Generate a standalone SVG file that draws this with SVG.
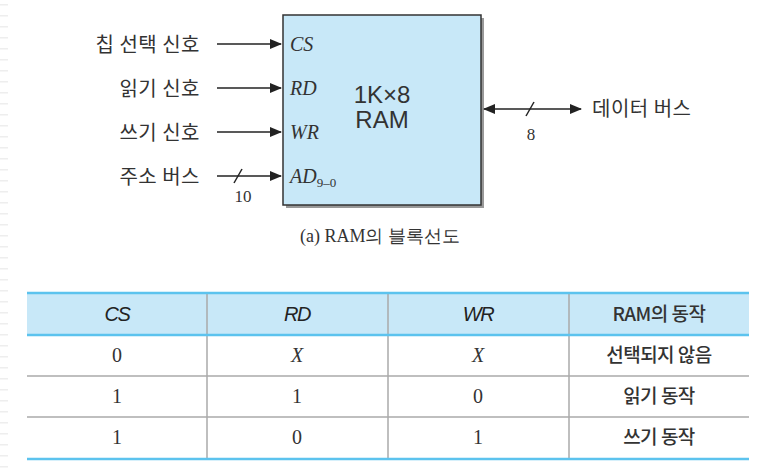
<svg xmlns="http://www.w3.org/2000/svg" width="764" height="475" viewBox="0 0 764 475">
<defs>
<marker id="ah" markerWidth="12" markerHeight="10" refX="11" refY="5" orient="auto-start-reverse" markerUnits="userSpaceOnUse">
<path d="M0,0 L12,5 L0,10 Z" fill="#222"/>
</marker>
</defs>
<style>
.kr{font-family:"Noto Sans CJK KR","Noto Sans",sans-serif;font-size:20px;fill:#333;letter-spacing:0.5px}
.ser{font-family:"Liberation Serif",serif;fill:#333}
.it{font-style:italic}
.sans{font-family:"Liberation Sans",Arial,sans-serif;fill:#333}
.wire{stroke:#222;stroke-width:1.5;fill:none}
.blue{stroke:#5cc3ee;stroke-width:2.5}
.grid{stroke:#aaa;stroke-width:1.5}
.hd{font-family:"Liberation Sans",Arial,sans-serif;font-style:italic;font-size:20px;fill:#222;letter-spacing:-1.5px}
.cell{font-family:"Liberation Serif",serif;font-size:20px;fill:#333}
.krc{font-family:"Noto Sans CJK KR","Noto Sans",sans-serif;font-size:19px;font-weight:500;fill:#333;letter-spacing:-0.5px}
</style>
<rect width="764" height="475" fill="#fff"/>
<line x1="4" y1="4" x2="4" y2="475" stroke="#eee" stroke-width="8" stroke-dasharray="1.5 9.5"/>

<g id="ram">
<rect x="286" y="18" width="198" height="190" fill="#999"/>
<rect x="283" y="15" width="198" height="190" fill="#c8e8f8" stroke="#333" stroke-width="1.5"/>
<text class="sans" x="382" y="103" font-size="24" text-anchor="middle">1K×8</text>
<text class="sans" x="382" y="128" font-size="24" text-anchor="middle">RAM</text>
<text class="ser it" x="290" y="51" font-size="20">CS</text>
<text class="ser it" x="290" y="95" font-size="20">RD</text>
<text class="ser it" x="290" y="139" font-size="20">WR</text>
<text class="ser it" x="290" y="183" font-size="20">AD<tspan font-size="13" font-style="normal" dy="4">9–0</tspan></text>
</g>

<g id="labels">
<text class="kr" x="200" y="52" text-anchor="end">칩 선택 신호</text>
<text class="kr" x="200" y="96" text-anchor="end">읽기 신호</text>
<text class="kr" x="200" y="140" text-anchor="end">쓰기 신호</text>
<text class="kr" x="200" y="184" text-anchor="end">주소 버스</text>
<text class="ser" x="243" y="202" font-size="17" text-anchor="middle">10</text>
<text class="kr" x="592" y="116">데이터 버스</text>
<text class="ser" x="531" y="140" font-size="17" text-anchor="middle">8</text>
<text class="ser" x="380" y="242" font-size="18" text-anchor="middle">(a) RAM의 블록선도</text>
</g>

<g id="connectors">
<line class="wire" x1="217" y1="44" x2="281" y2="44" marker-end="url(#ah)"/>
<line class="wire" x1="217" y1="88" x2="281" y2="88" marker-end="url(#ah)"/>
<line class="wire" x1="217" y1="132" x2="281" y2="132" marker-end="url(#ah)"/>
<line class="wire" x1="217" y1="176" x2="281" y2="176" marker-end="url(#ah)"/>
<line class="wire" x1="234" y1="183" x2="242" y2="169"/>
<line class="wire" x1="484" y1="109" x2="581" y2="109" marker-start="url(#ah)" marker-end="url(#ah)"/>
<line class="wire" x1="526" y1="116" x2="534" y2="102"/>
</g>

<g id="table">
<rect x="27" y="293" width="722" height="42" fill="#c8e8f8"/>
<line class="grid" x1="27" y1="376" x2="749" y2="376"/>
<line class="grid" x1="27" y1="417" x2="749" y2="417"/>
<line class="grid" x1="207" y1="293" x2="207" y2="459"/>
<line class="grid" x1="388" y1="293" x2="388" y2="459"/>
<line class="grid" x1="569" y1="293" x2="569" y2="459"/>
<line class="blue" x1="27" y1="293" x2="749" y2="293"/>
<line class="blue" x1="27" y1="335" x2="749" y2="335"/>
<line class="blue" x1="27" y1="459" x2="749" y2="459"/>
<text class="hd" x="117" y="321" text-anchor="middle">CS</text>
<text class="hd" x="297" y="321" text-anchor="middle">RD</text>
<text class="hd" x="478" y="321" text-anchor="middle">WR</text>
<text class="krc" x="659" y="321" text-anchor="middle">RAM의 동작</text>
<text class="cell" x="117" y="362" text-anchor="middle">0</text>
<text class="cell it" x="297" y="362" text-anchor="middle">X</text>
<text class="cell it" x="478" y="362" text-anchor="middle">X</text>
<text class="krc" x="659" y="362" text-anchor="middle">선택되지 않음</text>
<text class="cell" x="117" y="403" text-anchor="middle">1</text>
<text class="cell" x="297" y="403" text-anchor="middle">1</text>
<text class="cell" x="478" y="403" text-anchor="middle">0</text>
<text class="krc" x="659" y="403" text-anchor="middle">읽기 동작</text>
<text class="cell" x="117" y="444" text-anchor="middle">1</text>
<text class="cell" x="297" y="444" text-anchor="middle">0</text>
<text class="cell" x="478" y="444" text-anchor="middle">1</text>
<text class="krc" x="659" y="444" text-anchor="middle">쓰기 동작</text>
</g>
</svg>
